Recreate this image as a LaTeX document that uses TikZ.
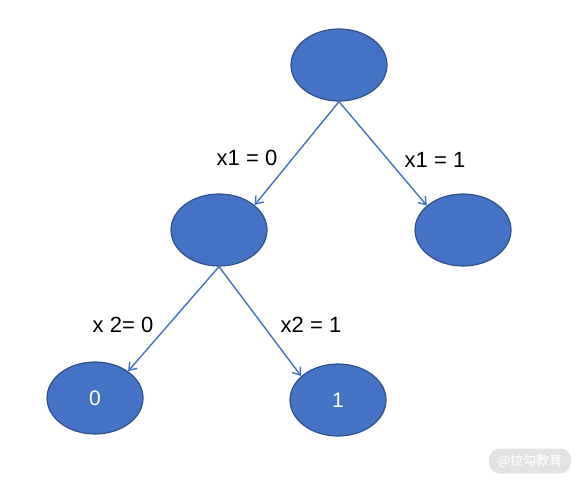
\documentclass[tikz,border=0pt]{standalone}
\usepackage{fontspec}
\setmainfont{Liberation Sans}
\newfontfamily\cjkfont{Noto Sans CJK SC}
\usetikzlibrary{arrows.meta,shapes.geometric}
\definecolor{nodefill}{HTML}{4472C4}
\definecolor{nodeline}{HTML}{2F528F}
\definecolor{wmbg}{HTML}{E3E3E3}
\tikzset{
  tnode/.style={ellipse, draw=nodeline, line width=1.2pt, fill=nodefill,
    minimum width=96pt, minimum height=72pt, inner sep=0pt,
    text=white, font=\fontsize{21}{24}\selectfont},
  edge/.style={draw=nodefill, line width=1.4pt, -{Straight Barb[length=7pt,width=10pt]}},
  elabel/.style={font=\fontsize{22}{26}\selectfont, text=black, inner sep=0pt}
}
\begin{document}
\begin{tikzpicture}[x=1pt,y=-1pt]
\useasboundingbox[fill=white] (0,0) rectangle (577,480);
\node[tnode] (root) at (339,65) {};
\node[tnode] (ml) at (219,230) {};
\node[tnode] (r) at (463,230) {};
\node[tnode] (bl) at (95,398) {0};
\node[tnode] (br) at (338,400) {1};
\draw[edge] (root.south) -- (ml.35);
\draw[edge] (root.south) -- (r.146);
\draw[edge] (ml.south) -- (bl.39);
\draw[edge] (ml.south) -- (br.147);
\node[elabel] (l1) at (247,158) {x1 = 0};
\node[elabel] (l2) at (435,160) {x1 = 1};
\node[elabel] (l3) at (123,325) {x 2= 0};
\node[elabel] (l4) at (311,325) {x2 = 1};
\node[fill=wmbg, rounded corners=11pt, minimum width=82pt, minimum height=25pt,
  text=white, font=\cjkfont\fontsize{13}{15}\selectfont, inner sep=0pt] (wm) at (530,461) {@拉勾教育};
\end{tikzpicture}
\end{document}
